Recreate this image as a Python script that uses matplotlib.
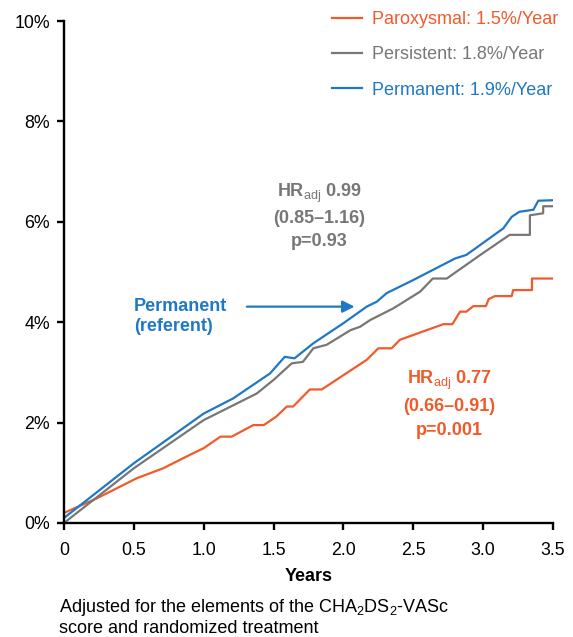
import numpy as np
import matplotlib.pyplot as plt

plt.rcParams['font.family'] = ['Liberation Sans', 'DejaVu Sans']
plt.rcParams['mathtext.fontset'] = 'custom'
plt.rcParams['mathtext.rm'] = 'Liberation Sans'
plt.rcParams['mathtext.it'] = 'Liberation Sans:italic'
plt.rcParams['mathtext.bf'] = 'Liberation Sans:bold'

# cumulative event rate (%)
perm_x = [0, 0.5, 1.0, 1.21, 1.475, 1.58, 1.65, 1.785, 2.0, 2.167, 2.24, 2.31, 2.5,
          2.80, 2.88, 2.98, 3.145, 3.205, 3.26, 3.36, 3.395, 3.5]
perm_y = [0.1, 1.19, 2.18, 2.48, 2.98, 3.31, 3.28, 3.58, 3.98, 4.31, 4.41, 4.58, 4.84,
          5.27, 5.34, 5.54, 5.87, 6.10, 6.20, 6.24, 6.42, 6.43]

pers_x = [0, 0.5, 1.0, 1.38, 1.50, 1.63, 1.71, 1.785, 1.88, 2.05, 2.12, 2.19, 2.36,
          2.55, 2.64, 2.74, 2.98, 3.19, 3.335, 3.335, 3.43, 3.43, 3.5]
pers_y = [0.0, 1.09, 2.05, 2.58, 2.85, 3.18, 3.21, 3.48, 3.55, 3.84, 3.91, 4.04, 4.28,
          4.61, 4.87, 4.87, 5.34, 5.74, 5.74, 6.13, 6.17, 6.31, 6.31]

par_x = [0, 0.234, 0.52, 0.71, 0.925, 1.0, 1.12, 1.2, 1.355, 1.43, 1.52, 1.595, 1.64,
         1.76, 1.845, 2.167, 2.25, 2.345, 2.405, 2.715, 2.78, 2.835, 2.88, 2.93, 3.02,
         3.04, 3.085, 3.205, 3.215, 3.35, 3.35, 3.5]
par_y = [0.2, 0.49, 0.89, 1.09, 1.39, 1.49, 1.72, 1.72, 1.95, 1.95, 2.12, 2.32, 2.32,
         2.66, 2.66, 3.25, 3.48, 3.48, 3.65, 3.96, 3.96, 4.21, 4.21, 4.32, 4.32,
         4.46, 4.52, 4.52, 4.64, 4.64, 4.87, 4.87]

orange = '#F15A2B'
gray = '#777777'
blue = '#1F78C6'

fig = plt.figure(figsize=(5.73, 6.37), dpi=100)
ax = fig.add_axes([0.1117, 0.179, 0.8533, 0.788])

ax.plot(par_x, par_y, color=orange, lw=1.6, label='Paroxysmal: 1.5%/Year')
ax.plot(pers_x, pers_y, color=gray, lw=1.6, label='Persistent: 1.8%/Year')
ax.plot(perm_x, perm_y, color=blue, lw=1.6, label='Permanent: 1.9%/Year')

ax.set_xlim(0, 3.5)
ax.set_ylim(0, 10)
ax.set_xticks(np.arange(0, 3.51, 0.5))
ax.set_xticklabels(['0', '0.5', '1.0', '1.5', '2.0', '2.5', '3.0', '3.5'])
ax.set_yticks([0, 2, 4, 6, 8, 10])
ax.set_yticklabels(['0%', '2%', '4%', '6%', '8%', '10%'])
for s in ['top', 'right']:
    ax.spines[s].set_visible(False)
for s in ['left', 'bottom']:
    ax.spines[s].set_linewidth(1.7)
ax.tick_params(direction='out', length=5, width=1.7, labelsize=12.8)
ax.tick_params(axis='x', pad=9)
ax.tick_params(axis='y', pad=5)
ax.set_xlabel('Years', fontsize=13, fontweight='bold', labelpad=6)

leg = ax.legend(loc='upper right', frameon=False, fontsize=13, handlelength=1.66,
                handletextpad=0.55, labelspacing=1.02, borderpad=0, borderaxespad=0,
                bbox_to_anchor=(1.01, 1.02))
for t, c in zip(leg.get_texts(), [orange, gray, blue]):
    t.set_color(c)

ax.text(1.825, 6.12, 'HR$_{\\mathrm{adj}}$ 0.99\n(0.85\u20131.16)\np=0.93', color=gray,
        fontsize=13, fontweight='bold', ha='center', va='center', linespacing=1.42)
ax.text(2.756, 2.38, 'HR$_{\\mathrm{adj}}$ 0.77\n(0.66\u20130.91)\np=0.001', color=orange,
        fontsize=13, fontweight='bold', ha='center', va='center', linespacing=1.5)
ax.text(0.5, 4.11, 'Permanent\n(referent)', color=blue, fontsize=13,
        fontweight='bold', ha='left', va='center', linespacing=1.28)
ax.annotate('', xy=(2.10, 4.31), xytext=(1.289, 4.31),
            arrowprops=dict(arrowstyle='-|>', color=blue, lw=1.6, mutation_scale=18))

fig.text(0.103, 0.0314, 'Adjusted for the elements of the CHA$_2$DS$_2$-VASc\nscore and randomized treatment',
         fontsize=13, ha='left', va='center', linespacing=1.21)

fig.savefig('out.png', dpi=100)
